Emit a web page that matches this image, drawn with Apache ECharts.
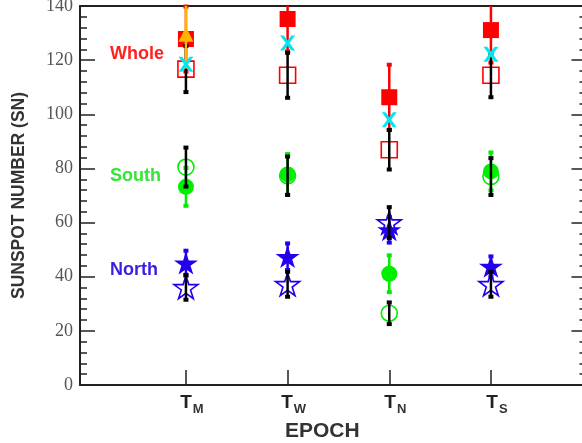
<!DOCTYPE html>
<html><head><meta charset="utf-8">
<script src="https://cdn.jsdelivr.net/npm/echarts@6/dist/echarts.min.js"></script>
<style>html,body{margin:0;padding:0;background:#fff}#c{width:582px;height:443px}</style>
</head><body><div id="c"></div>
<script>
// ---- data ----
const epochX = [1, 2, 3, 4];
const epochSub = ['M', 'W', 'N', 'S'];
const yMin = 0, yMax = 140, yStep = 20;

const wholeFilled = [127.8, 135.2, 106.3, 131.1];
const wholeFilledErr = [12, 12, 12, 12];
const wholeTriangle = [129.6, null, null, null];
const wholeTriangleErr = [12, null, null, null];
const wholeCross = [118.5, 126.3, 98.0, 122.2];
const wholeOpen = [116.7, 114.4, 86.9, 114.4];
const wholeOpenErr = [8.5, 8.3, 7.3, 8.1];
const southFilled = [73.2, 77.8, 41.1, 78.9];
const southFilledErr = [7.0, 7.5, 6.8, 7.0];
const southOpen = [80.5, 77.3, 26.5, 77.0];
const southOpenErr = [7.2, 7.1, 4.0, 6.8];
const northFilled = [45.0, 47.4, 57.3, 43.8];
const northFilledErr = [4.6, 4.9, 4.7, 3.7];
const northOpen = [36.1, 37.2, 60.0, 37.2];
const northOpenErr = [4.6, 4.6, 5.7, 4.6];

// ---- helpers ----
function pts(vals) {
  const out = [];
  vals.forEach((v, i) => { if (v != null) out.push([epochX[i], v]); });
  return out;
}
function errPts(vals, errs) {
  const out = [];
  vals.forEach((v, i) => { if (v != null && errs[i] != null) out.push([epochX[i], v, errs[i]]); });
  return out;
}
function errSeries(vals, errs, color, z) {
  return {
    type: 'custom', z: z, silent: true,
    encode: { x: 0, y: 1 },
    data: errPts(vals, errs),
    renderItem: function (params, api) {
      const x = api.value(0), v = api.value(1), e = api.value(2);
      const hiRaw = v + e, loRaw = v - e;
      const hi = Math.min(hiRaw, yMax), lo = Math.max(loRaw, yMin);
      const p1 = api.coord([x, hi]), p2 = api.coord([x, lo]);
      const ch = [{ type: 'line', shape: { x1: p1[0], y1: p1[1], x2: p2[0], y2: p2[1] }, style: { stroke: color, lineWidth: 2.5 } }];
      if (hiRaw <= yMax) ch.push({ type: 'rect', shape: { x: p1[0] - 2.5, y: p1[1] - 2, width: 5, height: 4 }, style: { fill: color } });
      if (loRaw >= yMin) ch.push({ type: 'rect', shape: { x: p2[0] - 2.5, y: p2[1] - 2, width: 5, height: 4 }, style: { fill: color } });
      return { type: 'group', children: ch };
    }
  };
}
const starPath = 'path://M50,0L61.23,34.55L97.55,34.55L68.17,55.9L79.39,90.45L50,69.1L20.61,90.45L31.83,55.9L2.45,34.55L38.77,34.55Z';
const crossPath = 'path://M0,0L3.5,0L7,4.6L10.5,0L14,0L8.8,7L14,14L10.5,14L7,9.4L3.5,14L0,14L5.2,7Z';

function scat(vals, symbol, size, fill, stroke, z) {
  return {
    type: 'scatter', z: z, silent: true, symbol: symbol, symbolSize: size, symbolKeepAspect: true,
    data: pts(vals),
    itemStyle: stroke ? { color: 'rgba(0,0,0,0)', borderColor: stroke, borderWidth: 1.6, opacity: 1 } : { color: fill, opacity: 1 }
  };
}

const RED = '#ff0000', GREEN = '#00ee00', BLUE = '#2200ee', CYAN = '#00e6f2', ORANGE = '#ffb400', BLACK = '#000000';

const chart = echarts.init(document.getElementById('c'), null, { renderer: 'canvas' });
function tickStyle() { return { inside: true, length: 15, lineStyle: { color: '#222', width: 1.5 } }; }
function minorStyle() { return { show: true, splitNumber: 5, length: 7, lineStyle: { color: '#222', width: 1.5 } }; }
function lineStyle() { return { show: true, onZero: false, lineStyle: { color: '#222', width: 2 } }; }

chart.setOption({
  animation: false,
  backgroundColor: '#fff',
  grid: { left: 80, top: 6, width: 506.5, height: 379, containLabel: false, outerBoundsMode: 'none' },
  xAxis: [{
    type: 'value', min: -0.042, max: 4.94, position: 'bottom',
    axisLine: lineStyle(),
    axisTick: Object.assign({ customValues: epochX }, tickStyle()),
    splitLine: { show: false },
    axisLabel: {
      customValues: epochX, margin: 5, padding: [0, 0, 0, 12],
      formatter: function (v) { const i = epochX.indexOf(v); return '{t|T}{s|' + epochSub[i] + '}'; },
      rich: {
        t: { fontFamily: 'Liberation Sans', fontWeight: 'bold', fontSize: 19, color: '#222' },
        s: { fontFamily: 'Liberation Sans', fontWeight: 'bold', fontSize: 13, color: '#333', padding: [13, 0, 0, 1] }
      }
    },
    name: 'EPOCH', nameLocation: 'middle', nameGap: 33,
    nameTextStyle: { fontFamily: 'Liberation Sans', fontWeight: 'bold', fontSize: 21, color: '#333', padding: [0, 22, 0, 0] }
  }, {
    type: 'value', min: -0.042, max: 4.94, position: 'top',
    axisLine: lineStyle(),
    axisTick: { show: false }, axisLabel: { show: false }, splitLine: { show: false }
  }],
  yAxis: [{
    type: 'value', min: yMin, max: yMax, interval: yStep, position: 'left',
    axisLine: lineStyle(),
    axisTick: tickStyle(), minorTick: minorStyle(),
    splitLine: { show: false },
    axisLabel: { fontFamily: 'Liberation Serif', fontSize: 18, color: '#555', margin: 7 },
    name: 'SUNSPOT NUMBER (SN)', nameLocation: 'middle', nameGap: 52,
    nameTextStyle: { fontFamily: 'Liberation Sans', fontWeight: 'bold', fontSize: 17.5, color: '#333' }
  }, {
    type: 'value', min: yMin, max: yMax, interval: yStep, position: 'right',
    axisLine: lineStyle(),
    axisTick: tickStyle(), minorTick: minorStyle(),
    splitLine: { show: false }, axisLabel: { show: false }
  }],
  graphic: [
    { type: 'text', left: 110, top: 45, style: { text: 'Whole', font: 'bold 18px "Liberation Sans"', fill: '#ff2020' } },
    { type: 'text', left: 110, top: 167, style: { text: 'South', font: 'bold 18px "Liberation Sans"', fill: '#33e633' } },
    { type: 'text', left: 110, top: 261, style: { text: 'North', font: 'bold 18px "Liberation Sans"', fill: '#3a1fe0' } }
  ],
  series: [
    errSeries(southFilled, southFilledErr, GREEN, 2),
    scat(southFilled, 'circle', 16, GREEN, null, 3),
    errSeries(northFilled, northFilledErr, BLUE, 2),
    scat(northFilled, starPath, 24, BLUE, null, 3),
    errSeries(wholeFilled, wholeFilledErr, RED, 2),
    scat(wholeFilled, 'rect', 16, RED, null, 3),
    scat(southOpen, 'circle', 16, null, GREEN, 4),
    scat(northOpen, starPath, 24, null, BLUE, 4),
    scat(wholeOpen, 'rect', 16, null, RED, 4),
    errSeries(southOpen, southOpenErr, BLACK, 5),
    errSeries(northOpen, northOpenErr, BLACK, 5),
    errSeries(wholeOpen, wholeOpenErr, BLACK, 5),
    errSeries(wholeTriangle, wholeTriangleErr, ORANGE, 6),
    scat(wholeTriangle, 'triangle', 15, ORANGE, null, 7),
    scat(wholeCross, crossPath, 15, CYAN, null, 8)
  ]
});
</script></body></html>
